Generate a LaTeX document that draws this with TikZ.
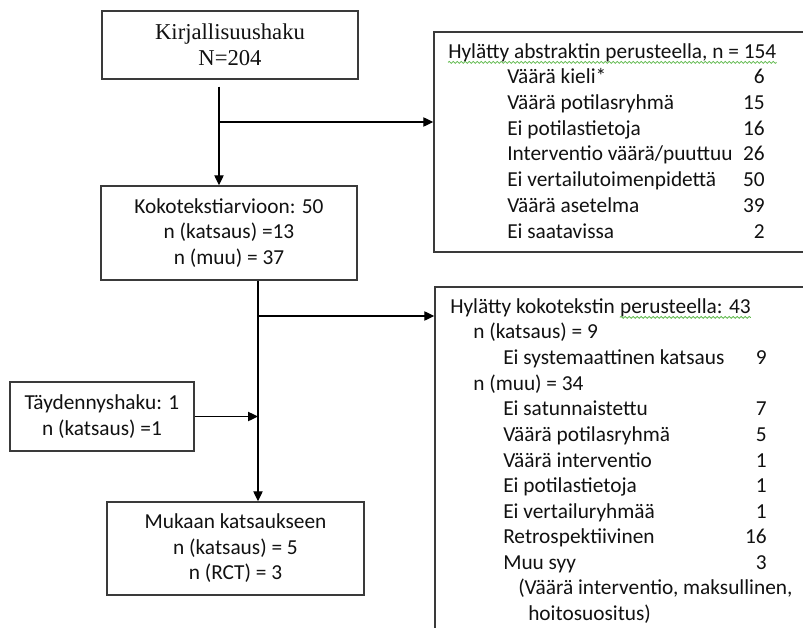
\documentclass[tikz,border=0pt]{standalone}
\usepackage{fontspec}
\setmainfont{Liberation Serif}
\newfontfamily\calfont{Carlito}
\usetikzlibrary{arrows.meta,decorations.pathmorphing}
\definecolor{edge}{HTML}{3A3A3A}
\definecolor{txt}{HTML}{111111}
\definecolor{squig}{HTML}{5DB84A}
\begin{document}
\begin{tikzpicture}[x=0.75pt,y=-0.75pt,
  box/.style={draw=edge,line width=1.1pt,rectangle,inner sep=0pt,align=center,text=txt},
  cal/.style={font=\calfont\fontsize{16}{19.1}\selectfont},
  ser/.style={font=\fontsize{17}{19.5}\selectfont},
  lbl/.style={cal,anchor=base west,inner sep=0pt,text=txt},
  num/.style={cal,anchor=base east,inner sep=0pt,text=txt},
  conn/.style={draw=black,line width=0.95pt},
  arr/.style={conn,-{Triangle[length=7.5pt,width=7pt]}},
  squiggle/.style={draw=squig,line width=0.6pt,decorate,decoration={snake,amplitude=0.7pt,segment length=3pt}}
]
\useasboundingbox (0,0) rectangle (803,628);
\clip (0,0) rectangle (803,628);

% main boxes
\node[box,ser,minimum width=192pt,minimum height=51pt] (k1) at (230,45) {Kirjallisuushaku\\N=204};
\node[box,cal,minimum width=192pt,minimum height=70.5pt] (k2) at (229,233) {Kokotekstiarvioon: 50\\n (katsaus) =13\\n (muu) = 37};
\node[box,cal,minimum width=138pt,minimum height=51.75pt] (tay) at (102,416.5) {Täydennyshaku: 1\\n (katsaus) =1};
\node[box,cal,minimum width=192.75pt,minimum height=69.75pt] (muk) at (235.5,548.5) {Mukaan katsaukseen\\n (katsaus) = 5\\n (RCT) = 3};
\node[box,minimum width=283.5pt,minimum height=165pt] (hylA) at (623,142) {};
\node[box,minimum width=282.75pt,minimum height=272.25pt] (hylB) at (623.5,468.5) {};

% connectors
\path (k1.south) ++(-11,7) coordinate (s1);
\draw[arr] (s1) -- (s1 |- k2.north);
\coordinate (br1) at (219,122);
\draw[arr] (br1) -- (br1 -| hylA.west);
\path (k2.south) ++(29,0) coordinate (s2);
\draw[arr] (s2) -- (s2 |- muk.north);
\coordinate (br2) at (258,316);
\draw[arr] (br2) -- (br2 -| hylB.west);
\coordinate (jn) at (s2 |- tay.east);
\draw[arr] (tay.east) -- (jn);

% list A
\node[lbl] (tA) at (448,58) {Hylätty abstraktin perusteella, n = 154};
\draw[squiggle] ([yshift=-0.5pt]tA.south west) -- ([yshift=-0.5pt]tA.south east);
\node[lbl] (a1) at (507,83.7) {Väärä kieli*};        \node[num] (n1) at (765,83.7) {6};
\node[lbl] (a2) at (507,109.4) {Väärä potilasryhmä}; \node[num] (n2) at (765,109.4) {15};
\node[lbl] (a3) at (507,135.1) {Ei potilastietoja};  \node[num] (n3) at (765,135.1) {16};
\node[lbl] (a4) at (507,160.9) {Interventio väärä/puuttuu}; \node[num] (n4) at (765,160.9) {26};
\node[lbl] (a5) at (507,186.6) {Ei vertailutoimenpidettä}; \node[num] (n5) at (765,186.6) {50};
\node[lbl] (a6) at (507,212.3) {Väärä asetelma};     \node[num] (n6) at (765,212.3) {39};
\node[lbl] (a7) at (507,238) {Ei saatavissa};        \node[num] (n7) at (765,238) {2};

% list B
\node[lbl] (tB1) at (450,313) {Hylätty kokotekstin};
\node[lbl] (tB2) at ([xshift=3.6pt]tB1.base east) {perusteella: 43};
\draw[squiggle] ([yshift=-0.5pt]tB2.south west) -- ([yshift=-0.5pt]tB2.south east);
\node[lbl] (g1) at (473,338.6) {n (katsaus) = 9};
\node[lbl] (c1) at (503,364) {Ei systemaattinen katsaus}; \node[num] (m1) at (767,364) {9};
\node[lbl] (g2) at (473,390) {n (muu) = 34};
\node[lbl] (c2) at (503,415.5) {Ei satunnaistettu};   \node[num] (m2) at (767,415.5) {7};
\node[lbl] (c3) at (503,441) {Väärä potilasryhmä};    \node[num] (m3) at (767,441) {5};
\node[lbl] (c4) at (503,467) {Väärä interventio};     \node[num] (m4) at (767,467) {1};
\node[lbl] (c5) at (503,492.5) {Ei potilastietoja};   \node[num] (m5) at (767,492.5) {1};
\node[lbl] (c6) at (503,518) {Ei vertailuryhmää};     \node[num] (m6) at (767,518) {1};
\node[lbl] (c7) at (503,543.5) {Retrospektiivinen};   \node[num] (m7) at (767,543.5) {16};
\node[lbl] (c8) at (503,569) {Muu syy};               \node[num] (m8) at (767,569) {3};
\node[lbl] (c9) at (518,594.6) {(Väärä interventio, maksullinen,};
\node[lbl] (c10) at (528,620) {hoitosuositus)};
\end{tikzpicture}
\end{document}
